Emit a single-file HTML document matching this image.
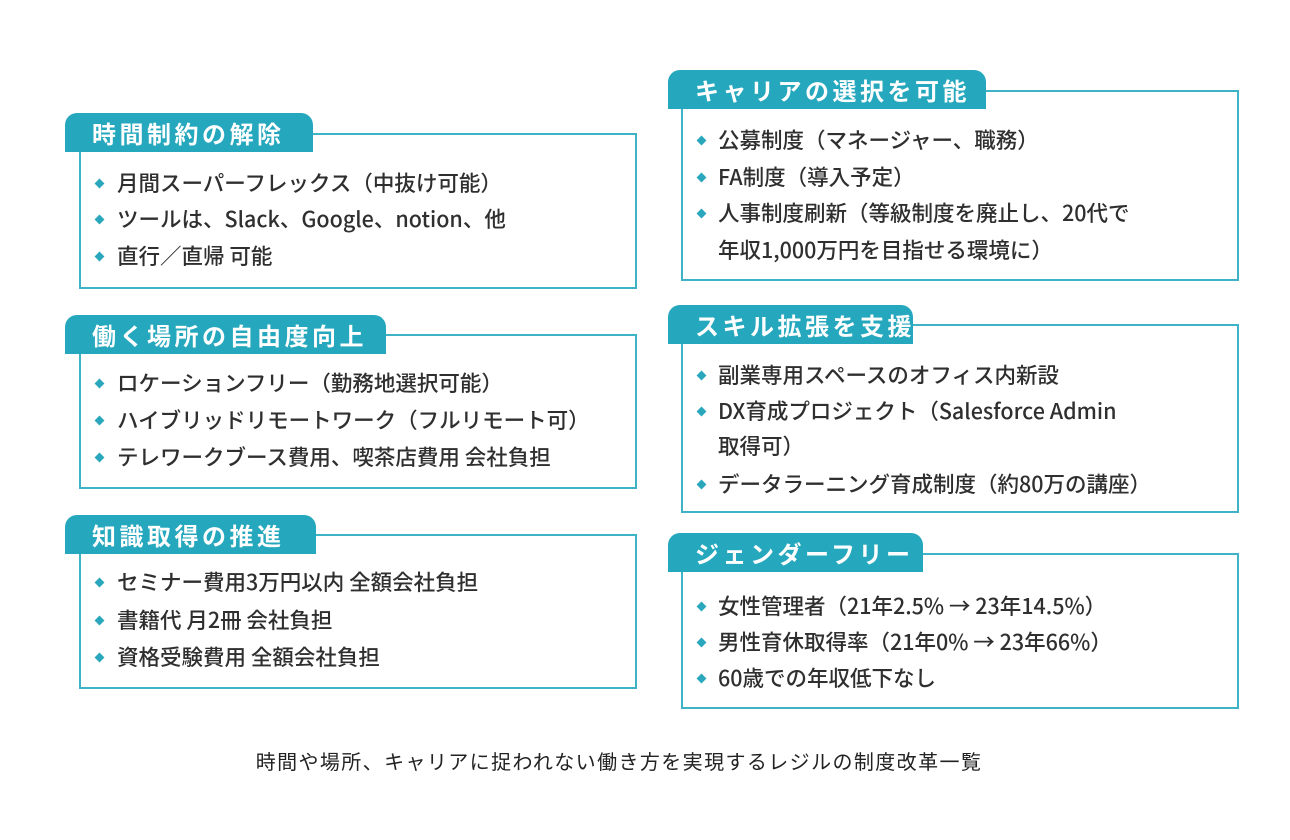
<!DOCTYPE html>
<html><head><meta charset="utf-8"><style>
body{margin:0;width:1290px;height:840px;background:#fff;position:relative;overflow:hidden;font-family:"Noto Sans CJK JP","Liberation Sans",sans-serif;color:#333}
.box{position:absolute;border:2px solid #3fb3c6;box-sizing:border-box}
.tab{position:absolute;background:#25a8bd;color:#fff;font-size:24px;font-weight:bold;line-height:39px;height:39px;padding-left:27px;box-sizing:border-box;border-radius:12px 12px 0 0;letter-spacing:3.5px;white-space:nowrap;overflow:hidden}
.it{position:absolute;font-size:21.5px;font-weight:500;line-height:30px;height:30px;white-space:nowrap;color:#2f2f2f}
.b{position:absolute;width:7px;height:7px;background:#2aa7bd;transform:rotate(45deg)}
.cap{position:absolute;left:0;width:1238px;text-align:center;top:747px;font-size:20px;line-height:28px;color:#222;letter-spacing:1.4px}
</style></head><body>

<div class="box" style="left:79px;top:133px;width:558px;height:156px"></div>
<div class="tab" style="left:65px;top:113px;width:248px">時間制約の解除</div>
<div class="b" style="left:96px;top:180px"></div><div class="it" style="left:117px;top:168px">月間スーパーフレックス（中抜け可能）</div>
<div class="b" style="left:96px;top:216px"></div><div class="it" style="left:117px;top:204px">ツールは、Slack、Google、notion、他</div>
<div class="b" style="left:96px;top:253px"></div><div class="it" style="left:117px;top:241px">直行／直帰 可能</div>

<div class="box" style="left:79px;top:334px;width:558px;height:155px"></div>
<div class="tab" style="left:65px;top:315px;width:321px">働く場所の自由度向上</div>
<div class="b" style="left:96px;top:380px"></div><div class="it" style="left:117px;top:368px">ロケーションフリー（勤務地選択可能）</div>
<div class="b" style="left:96px;top:417px"></div><div class="it" style="left:117px;top:405px">ハイブリッドリモートワーク（フルリモート可）</div>
<div class="b" style="left:96px;top:454px"></div><div class="it" style="left:117px;top:442px">テレワークブース費用、喫茶店費用 会社負担</div>

<div class="box" style="left:79px;top:534px;width:558px;height:155px"></div>
<div class="tab" style="left:65px;top:515px;width:251px">知識取得の推進</div>
<div class="b" style="left:96px;top:579px"></div><div class="it" style="left:117px;top:567px">セミナー費用3万円以内 全額会社負担</div>
<div class="b" style="left:96px;top:617px"></div><div class="it" style="left:117px;top:605px">書籍代 月2冊 会社負担</div>
<div class="b" style="left:96px;top:654px"></div><div class="it" style="left:117px;top:642px">資格受験費用 全額会社負担</div>

<div class="box" style="left:681px;top:90px;width:558px;height:191px"></div>
<div class="tab" style="left:668px;top:70px;width:318px">キャリアの選択を可能</div>
<div class="b" style="left:698px;top:137px"></div><div class="it" style="left:718px;top:125px">公募制度（マネージャー、職務）</div>
<div class="b" style="left:698px;top:174px"></div><div class="it" style="left:718px;top:162px">FA制度（導入予定）</div>
<div class="b" style="left:698px;top:210px"></div><div class="it" style="left:718px;top:198px">人事制度刷新（等級制度を廃止し、20代で</div>
<div class="it" style="left:718px;top:235px">年収1,000万円を目指せる環境に）</div>

<div class="box" style="left:681px;top:324px;width:558px;height:189px"></div>
<div class="tab" style="left:668px;top:305px;width:245px">スキル拡張を支援</div>
<div class="b" style="left:698px;top:372px"></div><div class="it" style="left:718px;top:360px">副業専用スペースのオフィス内新設</div>
<div class="b" style="left:698px;top:408px"></div><div class="it" style="left:718px;top:396px">DX育成プロジェクト（Salesforce Admin</div>
<div class="it" style="left:718px;top:431px">取得可）</div>
<div class="b" style="left:698px;top:481px"></div><div class="it" style="left:718px;top:469px">データラーニング育成制度（約80万の講座）</div>

<div class="box" style="left:681px;top:553px;width:558px;height:156px"></div>
<div class="tab" style="left:668px;top:533px;width:255px">ジェンダーフリー</div>
<div class="b" style="left:698px;top:603px"></div><div class="it" style="left:718px;top:591px">女性管理者（21年2.5% → 23年14.5%）</div>
<div class="b" style="left:698px;top:639px"></div><div class="it" style="left:718px;top:627px">男性育休取得率（21年0% → 23年66%）</div>
<div class="b" style="left:698px;top:675px"></div><div class="it" style="left:718px;top:663px">60歳での年収低下なし</div>

<div class="cap">時間や場所、キャリアに捉われない働き方を実現するレジルの制度改革一覧</div>
</body></html>
